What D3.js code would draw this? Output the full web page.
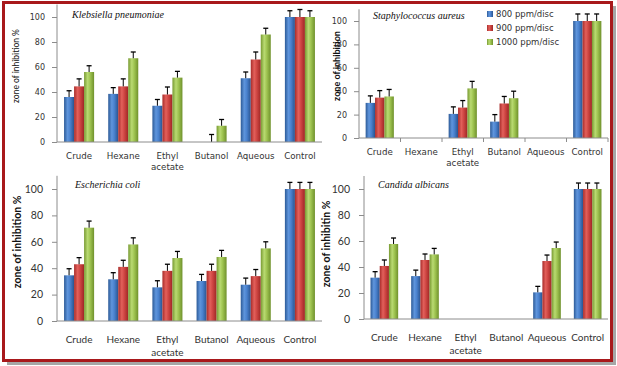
<!DOCTYPE html>
<html><head><meta charset="utf-8">
<script src="https://cdn.jsdelivr.net/npm/d3@7"></script>
<style>body{margin:0;background:#fff}svg{display:block}</style>
</head><body>
<script>
// ---------- data ----------
const categories = ["Crude","Hexane","Ethyl acetate","Butanol","Aqueous","Control"];
const seriesNames = ["800 ppm/disc","900 ppm/disc","1000 ppm/disc"];
const yTickValues = [0,20,40,60,80,100];

const klebsiella800  = [36, 38.5, 29, null, 51, 100];
const klebsiella900  = [44.5, 44.5, 38, 0, 66, 100];
const klebsiella1000 = [56, 67, 51.5, 13, 86, 100];
const klebsiellaErr800  = [5, 5, 5, null, 5, 5];
const klebsiellaErr900  = [6, 6, 6, 6, 6, 6];
const klebsiellaErr1000 = [5, 5, 5, 5, 5, 5];

const staph800  = [30, null, 20.6, 14, null, 100];
const staph900  = [34.5, null, 26, 29.5, null, 100];
const staph1000 = [35.5, null, 42.4, 34, null, 100];
const staphErr800  = [6, null, 6, 6, null, 6];
const staphErr900  = [6, null, 6, 6, null, 6];
const staphErr1000 = [6, null, 6, 6, null, 6];

const ecoli800  = [34.6, 31.6, 25.5, 30.3, 27.5, 100];
const ecoli900  = [43, 41, 38, 38, 34, 100];
const ecoli1000 = [70.7, 58, 47.7, 48.5, 55, 100];
const ecoliErr800  = [5, 5, 5, 5, 5, 5];
const ecoliErr900  = [5, 5, 5, 5, 5, 5];
const ecoliErr1000 = [5, 5, 5, 5, 5, 5];

const candida800  = [31.8, 33, null, null, 20.5, 100];
const candida900  = [40.8, 45.4, null, null, 44.6, 100];
const candida1000 = [57.7, 49.7, null, null, 54.6, 100];
const candidaErr800  = [4.6, 4.6, null, null, 4.6, 4.6];
const candidaErr900  = [4.6, 4.6, null, null, 4.6, 4.6];
const candidaErr1000 = [4.6, 4.6, null, null, 4.6, 4.6];

const panelTitles = ["Klebsiella pneumoniae","Staphylococcus aureus","Escherichia coli","Candida albicans"];
const yLabels = ["zone of inhibition %","zone of inhibition","zone of inhibition %","zone of inhibitin %"];

// ---------- layout ----------
const W = 617, H = 366;
const svg = d3.select("body").append("svg").attr("width", W).attr("height", H);
const defs = svg.append("defs");

const barColors = [
  ["#2c5a97","#5f95dc","#4a82cf","#2a5490"],
  ["#a82c2a","#e2605b","#cf4643","#9e2725"],
  ["#789a32","#b9da72","#9fc451","#6f912c"]
];
barColors.forEach((c, i) => {
  const g = defs.append("linearGradient").attr("id", "g" + i)
    .attr("x1", 0).attr("x2", 1).attr("y1", 0).attr("y2", 0);
  [[0, c[0]], [0.35, c[1]], [0.6, c[2]], [1, c[3]]].forEach(s =>
    g.append("stop").attr("offset", s[0]).attr("stop-color", s[1]));
});

// frame: shadow + red border
svg.append("rect").attr("x", 7).attr("y", 6).attr("width", 609).attr("height", 359).attr("fill", "#a6a6a6");
svg.append("rect").attr("x", 3.5).attr("y", 2.5).attr("width", 608).attr("height", 358)
  .attr("fill", "#fff").attr("stroke", "#a8181b").attr("stroke-width", 3);

const panels = [
  {vals:[klebsiella800,klebsiella900,klebsiella1000], errs:[klebsiellaErr800,klebsiellaErr900,klebsiellaErr1000],
   x0:57, x1:322, y0:142, y100:17, top:true, title:[72,18], yl:[16,66], ylSize:8.5, ylBold:false, xTicks:false},
  {vals:[staph800,staph900,staph1000], errs:[staphErr800,staphErr900,staphErr1000],
   x0:359, x1:608, y0:138, y100:21, top:true, title:[373,19], yl:[337,66], ylSize:9, ylBold:true, xTicks:true},
  {vals:[ecoli800,ecoli900,ecoli1000], errs:[ecoliErr800,ecoliErr900,ecoliErr1000],
   x0:57, x1:322, y0:321, y100:189, top:false, title:[75,188], yl:[17,242], ylSize:10.5, ylBold:true, xTicks:false},
  {vals:[candida800,candida900,candida1000], errs:[candidaErr800,candidaErr900,candidaErr1000],
   x0:364, x1:608, y0:319, y100:189, top:false, title:[378,188], yl:[326,244], ylSize:10.5, ylBold:true, xTicks:false}
];

const axisColor = "#8c8c8c";
panels.forEach((p, pi) => {
  const g = svg.append("g");
  const tickFont = p.top ? "DejaVu Sans" : "Lato";
  const tickSize = p.top ? 8 : 10.5;
  const catSize = p.top ? 8.7 : 10;
  const y = d3.scaleLinear().domain([0, 100]).range([p.y0, p.y100]);
  const x = d3.scaleBand().domain(categories).range([p.x0, p.x1]).paddingInner(0.32).paddingOuter(0.16);
  const xs = d3.scaleBand().domain(seriesNames).range([0, x.bandwidth()]);

  // bars
  p.vals.forEach((arr, si) => {
    arr.forEach((v, ci) => {
      if (v === null) return;
      const bx = x(categories[ci]) + xs(seriesNames[si]);
      if (v > 0) {
        g.append("rect").attr("x", bx).attr("y", y(v)).attr("width", xs.bandwidth())
          .attr("height", y(0) - y(v)).attr("fill", "url(#g" + si + ")");
      }
      const e = p.errs[si][ci];
      if (e !== null) {
        const cx = bx + xs.bandwidth() / 2;
        g.append("line").attr("x1", cx).attr("x2", cx).attr("y1", y(v)).attr("y2", y(v + e))
          .attr("stroke", "#000").attr("stroke-width", 1);
        g.append("line").attr("x1", cx - 2.5).attr("x2", cx + 2.5).attr("y1", y(v + e)).attr("y2", y(v + e))
          .attr("stroke", "#000").attr("stroke-width", 1.3);
      }
    });
  });

  // y axis
  const yAx = g.append("g").attr("transform", `translate(${p.x0},0)`)
    .call(d3.axisLeft(y).tickValues(yTickValues).tickSize(5).tickPadding(p.top ? 7 : 9));
  yAx.select(".domain").remove();
  yAx.append("line").attr("x1", 0).attr("x2", 0).attr("y1", p.y0).attr("y2", y(110)).attr("stroke", axisColor);
  yAx.selectAll(".tick line").attr("stroke", axisColor);
  yAx.selectAll(".tick text").attr("fill", "#333").style("font-family", tickFont).style("font-size", tickSize + "px");

  // x axis
  g.append("line").attr("x1", p.x0).attr("x2", p.x1).attr("y1", p.y0).attr("y2", p.y0).attr("stroke", axisColor);
  if (p.xTicks) {
    categories.forEach(c => {
      const tx = x(c) - x.step() * x.paddingInner() / 2 + x.step();
      g.append("line").attr("x1", tx).attr("x2", tx).attr("y1", p.y0).attr("y2", p.y0 + 4).attr("stroke", axisColor);
    });
  }
  categories.forEach(c => {
    const words = c.split(" ");
    const t = g.append("text").attr("x", x(c) + x.bandwidth() / 2).attr("y", p.y0 + (p.top ? 17 : 22))
      .attr("text-anchor", "middle").attr("fill", "#333")
      .style("font-family", tickFont).style("font-size", catSize + "px");
    words.forEach((w, wi) => t.append("tspan").attr("x", x(c) + x.bandwidth() / 2)
      .attr("dy", wi === 0 ? 0 : (p.top ? 10.5 : 12.5)).text(w));
  });

  // y label
  g.append("text").attr("transform", `translate(${p.yl[0]},${p.yl[1]}) rotate(-90)`)
    .attr("text-anchor", "middle").attr("dy", "0.35em").attr("fill", "#111")
    .style("font-family", "Lato").style("font-size", p.ylSize + "px")
    .style("font-weight", p.ylBold ? "bold" : "normal").text(yLabels[pi]);

  // title
  g.append("text").attr("x", p.title[0]).attr("y", p.title[1]).attr("fill", "#111")
    .style("font-family", "Liberation Serif").style("font-style", "italic").style("font-size", "10px")
    .text(panelTitles[pi]);
});

// legend
const leg = svg.append("g");
seriesNames.forEach((s, i) => {
  const ly = 14 + i * 14;
  leg.append("rect").attr("x", 487).attr("y", ly - 3).attr("width", 6).attr("height", 6).attr("fill", "url(#g" + i + ")");
  leg.append("text").attr("x", 496).attr("y", ly).attr("dy", "0.35em").attr("fill", "#333")
    .style("font-family", "DejaVu Sans").style("font-size", "8.5px").text(s);
});
</script>
</body></html>
